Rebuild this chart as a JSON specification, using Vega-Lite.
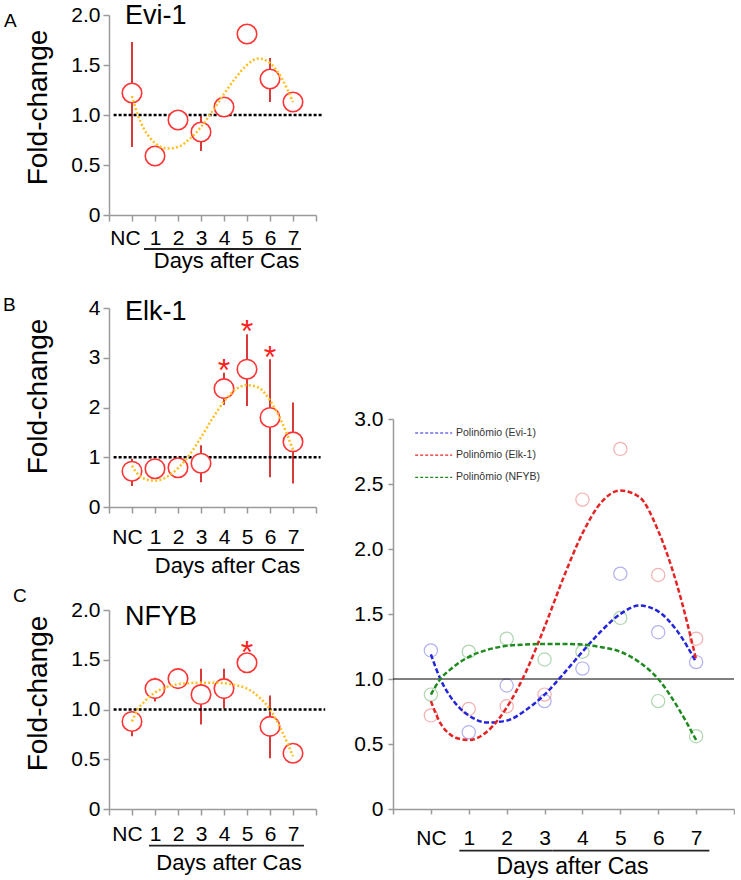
{
  "$schema": "https://vega.github.io/schema/vega-lite/v6.json",
  "padding": {"left": 2, "top": 2, "right": 0, "bottom": 0},
  "background": "white",
  "config": {
    "view": {"stroke": null},
    "font": "Liberation Sans",
    "axis": {"grid": false, "domainColor": "#9a9a9a", "domainWidth": 1.5, "tickColor": "#9a9a9a", "tickWidth": 1.5, "tickSize": 6, "labelFont": "Liberation Sans", "labelFontSize": 21, "labelColor": "#000", "titleFont": "Liberation Sans", "titleColor": "#000", "titleFontWeight": "normal", "labelOverlap": false, "labelFlush": false, "labelAngle": 0},
    "text": {"font": "Liberation Sans"}
  },
  "datasets": {
    "means": [
      {"gene": "Evi-1", "day": 0, "mean": 1.22, "lo": 0.68, "hi": 1.73},
      {"gene": "Evi-1", "day": 1, "mean": 0.59, "lo": 0.59, "hi": 0.59},
      {"gene": "Evi-1", "day": 2, "mean": 0.95, "lo": 0.85, "hi": 0.95},
      {"gene": "Evi-1", "day": 3, "mean": 0.83, "lo": 0.64, "hi": 0.99},
      {"gene": "Evi-1", "day": 4, "mean": 1.08, "lo": 1.08, "hi": 1.08},
      {"gene": "Evi-1", "day": 5, "mean": 1.81, "lo": 1.81, "hi": 1.81},
      {"gene": "Evi-1", "day": 6, "mean": 1.36, "lo": 1.13, "hi": 1.57},
      {"gene": "Evi-1", "day": 7, "mean": 1.13, "lo": 1.13, "hi": 1.13},
      {"gene": "Elk-1", "day": 0, "mean": 0.72, "lo": 0.42, "hi": 0.97},
      {"gene": "Elk-1", "day": 1, "mean": 0.77, "lo": 0.77, "hi": 0.77},
      {"gene": "Elk-1", "day": 2, "mean": 0.79, "lo": 0.79, "hi": 0.79},
      {"gene": "Elk-1", "day": 3, "mean": 0.88, "lo": 0.5, "hi": 1.24},
      {"gene": "Elk-1", "day": 4, "mean": 2.38, "lo": 2.05, "hi": 2.7},
      {"gene": "Elk-1", "day": 5, "mean": 2.77, "lo": 2.03, "hi": 3.47},
      {"gene": "Elk-1", "day": 6, "mean": 1.8, "lo": 0.6, "hi": 2.97},
      {"gene": "Elk-1", "day": 7, "mean": 1.31, "lo": 0.47, "hi": 2.1},
      {"gene": "NFYB", "day": 0, "mean": 0.88, "lo": 0.73, "hi": 0.88},
      {"gene": "NFYB", "day": 1, "mean": 1.21, "lo": 1.08, "hi": 1.32},
      {"gene": "NFYB", "day": 2, "mean": 1.31, "lo": 1.21, "hi": 1.31},
      {"gene": "NFYB", "day": 3, "mean": 1.15, "lo": 0.85, "hi": 1.41},
      {"gene": "NFYB", "day": 4, "mean": 1.21, "lo": 1.01, "hi": 1.41},
      {"gene": "NFYB", "day": 5, "mean": 1.47, "lo": 1.37, "hi": 1.47},
      {"gene": "NFYB", "day": 6, "mean": 0.83, "lo": 0.51, "hi": 1.14},
      {"gene": "NFYB", "day": 7, "mean": 0.56, "lo": 0.56, "hi": 0.56}
    ],
    "fits": [
      {"gene": "Evi-1", "day": 0, "fit": 1.19},
      {"gene": "Evi-1", "day": 0.25, "fit": 1.0},
      {"gene": "Evi-1", "day": 0.5, "fit": 0.87},
      {"gene": "Evi-1", "day": 0.75, "fit": 0.78},
      {"gene": "Evi-1", "day": 1, "fit": 0.72},
      {"gene": "Evi-1", "day": 1.5, "fit": 0.665},
      {"gene": "Evi-1", "day": 2, "fit": 0.68},
      {"gene": "Evi-1", "day": 2.5, "fit": 0.76},
      {"gene": "Evi-1", "day": 3, "fit": 0.88},
      {"gene": "Evi-1", "day": 3.5, "fit": 1.04},
      {"gene": "Evi-1", "day": 4, "fit": 1.21},
      {"gene": "Evi-1", "day": 4.5, "fit": 1.37},
      {"gene": "Evi-1", "day": 5, "fit": 1.5},
      {"gene": "Evi-1", "day": 5.5, "fit": 1.565},
      {"gene": "Evi-1", "day": 6, "fit": 1.52},
      {"gene": "Evi-1", "day": 6.5, "fit": 1.37},
      {"gene": "Evi-1", "day": 7, "fit": 1.13},
      {"gene": "Elk-1", "day": 0, "fit": 0.83},
      {"gene": "Elk-1", "day": 0.25, "fit": 0.66},
      {"gene": "Elk-1", "day": 0.5, "fit": 0.575},
      {"gene": "Elk-1", "day": 0.75, "fit": 0.54},
      {"gene": "Elk-1", "day": 1, "fit": 0.53},
      {"gene": "Elk-1", "day": 1.5, "fit": 0.6},
      {"gene": "Elk-1", "day": 2, "fit": 0.78},
      {"gene": "Elk-1", "day": 2.5, "fit": 1.05},
      {"gene": "Elk-1", "day": 3, "fit": 1.4},
      {"gene": "Elk-1", "day": 3.5, "fit": 1.78},
      {"gene": "Elk-1", "day": 4, "fit": 2.12},
      {"gene": "Elk-1", "day": 4.5, "fit": 2.36},
      {"gene": "Elk-1", "day": 5, "fit": 2.45},
      {"gene": "Elk-1", "day": 5.5, "fit": 2.4},
      {"gene": "Elk-1", "day": 6, "fit": 2.14},
      {"gene": "Elk-1", "day": 6.5, "fit": 1.72},
      {"gene": "Elk-1", "day": 7, "fit": 1.15},
      {"gene": "NFYB", "day": 0, "fit": 0.88},
      {"gene": "NFYB", "day": 0.25, "fit": 1.0},
      {"gene": "NFYB", "day": 0.5, "fit": 1.07},
      {"gene": "NFYB", "day": 1, "fit": 1.17},
      {"gene": "NFYB", "day": 1.5, "fit": 1.225},
      {"gene": "NFYB", "day": 2, "fit": 1.255},
      {"gene": "NFYB", "day": 2.5, "fit": 1.265},
      {"gene": "NFYB", "day": 3, "fit": 1.27},
      {"gene": "NFYB", "day": 3.5, "fit": 1.27},
      {"gene": "NFYB", "day": 4, "fit": 1.265},
      {"gene": "NFYB", "day": 4.5, "fit": 1.245},
      {"gene": "NFYB", "day": 5, "fit": 1.21},
      {"gene": "NFYB", "day": 5.5, "fit": 1.13},
      {"gene": "NFYB", "day": 6, "fit": 1.0},
      {"gene": "NFYB", "day": 6.5, "fit": 0.79},
      {"gene": "NFYB", "day": 7, "fit": 0.53}
    ],
    "stars": [
      {"gene": "Elk-1", "day": 4, "y": 2.92},
      {"gene": "Elk-1", "day": 5, "y": 3.7},
      {"gene": "Elk-1", "day": 6, "y": 3.18},
      {"gene": "NFYB", "day": 5, "y": 1.66}
    ]
  },
  "spacing": 26,
  "resolve": {"scale": {"color": "independent"}, "legend": {"color": "independent"}},
  "hconcat": [
    {
      "spacing": 88,
      "bounds": "flush",
      "vconcat": [
        {
          "width": 207, "height": 200,
          "layer": [
            {"data": {"name": "means"}, "transform": [{"filter": "datum.gene == 'Evi-1'"}],
             "mark": {"type": "rule", "color": "#d83a3a", "strokeWidth": 2},
             "encoding": {
               "x": {"field": "day", "type": "quantitative", "scale": {"domain": [-1, 8], "nice": false, "zero": false},
                     "axis": {"values": [-1, 0, 1, 2, 3, 4, 5, 6, 7, 8], "tickCount": 20, "labelOverlap": false, "labelExpr": "datum.value == 0 ? 'NC' : (datum.value >= 1 && datum.value <= 7 ? format(datum.value, 'd') : '')", "labelOffset": {"condition": {"test": "datum.value == 0", "value": -7}, "value": 0}, "labelPadding": 6.4, "title": "Days after Cas", "titleFontSize": 22, "titleX": 117, "titleY": 52, "titleBaseline": "alphabetic", "titleAlign": "center"}},
               "y": {"field": "lo", "type": "quantitative", "scale": {"domain": [0, 2], "nice": false, "zero": false},
                     "axis": {"values": [0, 0.5, 1, 1.5, 2], "tickCount": 20, "labelOverlap": false, "labelExpr": "datum.value == 0 ? '0' : format(datum.value, '.1f')", "labelPadding": 3, "title": "Fold-change", "titleFontSize": 28, "titleX": -71, "titleY": 92, "titleBaseline": "middle", "titleAngle": -90, "titleAlign": "center"}},
               "y2": {"field": "hi"}
             }},
            {"data": {"values": [{}]}, "mark": {"type": "rule", "color": "black", "strokeWidth": 2.5, "strokeDash": [3, 2]},
             "encoding": {"x": {"datum": -0.8}, "x2": {"datum": 8.3}, "y": {"datum": 1}}},
            {"data": {"name": "means"}, "transform": [{"filter": "datum.gene == 'Evi-1'"}],
             "mark": {"type": "circle", "size": 380, "fill": "white", "stroke": "#ff3333", "strokeWidth": 1.6, "opacity": 1},
             "encoding": {"x": {"field": "day", "type": "quantitative"}, "y": {"field": "mean", "type": "quantitative"}}},
            {"data": {"name": "fits"}, "transform": [{"filter": "datum.gene == 'Evi-1'"}],
             "mark": {"type": "line", "color": "#ffbf1f", "strokeWidth": 2.5, "strokeDash": [2, 2.2], "interpolate": "monotone"},
             "encoding": {"x": {"field": "day", "type": "quantitative"}, "y": {"field": "fit", "type": "quantitative"}}},
            {"data": {"values": [{}]}, "mark": {"type": "text", "text": "Evi-1", "fontSize": 27, "align": "left", "baseline": "middle", "color": "black"},
             "encoding": {"x": {"datum": -0.3}, "y": {"datum": 1.99}}},
            {"data": {"values": [{}]}, "mark": {"type": "text", "text": "A", "fontSize": 19, "align": "left", "baseline": "middle", "color": "black"},
             "encoding": {"x": {"datum": -5.57}, "y": {"datum": 1.94}}},
            {"data": {"values": [{}]}, "mark": {"type": "rule", "color": "#222", "strokeWidth": 1.8},
             "encoding": {"x": {"datum": 0.52}, "x2": {"datum": 7.35}, "y": {"datum": -0.34}}}
          ]
        },
        {
          "width": 207, "height": 204,
          "layer": [
            {"data": {"name": "means"}, "transform": [{"filter": "datum.gene == 'Elk-1'"}],
             "mark": {"type": "rule", "color": "#d83a3a", "strokeWidth": 2},
             "encoding": {
               "x": {"field": "day", "type": "quantitative", "scale": {"domain": [-1, 8], "nice": false, "zero": false},
                     "axis": {"values": [-1, 0, 1, 2, 3, 4, 5, 6, 7, 8], "tickCount": 20, "labelOverlap": false, "labelExpr": "datum.value == 0 ? 'NC' : (datum.value >= 1 && datum.value <= 7 ? format(datum.value, 'd') : '')", "labelOffset": {"condition": {"test": "datum.value == 0", "value": -5}, "value": 0}, "labelPadding": 13.4, "title": "Days after Cas", "titleFontSize": 22, "titleX": 118, "titleY": 65.7, "titleBaseline": "alphabetic", "titleAlign": "center"}},
               "y": {"field": "lo", "type": "quantitative", "scale": {"domain": [0, 4], "nice": false, "zero": false, "range": [204, 5]},
                     "axis": {"values": [0, 1, 2, 3, 4], "tickCount": 20, "labelOverlap": false, "labelExpr": "format(datum.value, 'd')", "labelPadding": 3, "title": "Fold-change", "titleFontSize": 28, "titleX": -71, "titleY": 93, "titleBaseline": "middle", "titleAngle": -90, "titleAlign": "center"}},
               "y2": {"field": "hi"}
             }},
            {"data": {"values": [{}]}, "mark": {"type": "rule", "color": "black", "strokeWidth": 2.5, "strokeDash": [3, 2]},
             "encoding": {"x": {"datum": -0.8}, "x2": {"datum": 8.2}, "y": {"datum": 1}}},
            {"data": {"name": "means"}, "transform": [{"filter": "datum.gene == 'Elk-1'"}],
             "mark": {"type": "circle", "size": 380, "fill": "white", "stroke": "#ff3333", "strokeWidth": 1.6, "opacity": 1},
             "encoding": {"x": {"field": "day", "type": "quantitative"}, "y": {"field": "mean", "type": "quantitative"}}},
            {"data": {"name": "fits"}, "transform": [{"filter": "datum.gene == 'Elk-1'"}],
             "mark": {"type": "line", "color": "#ffbf1f", "strokeWidth": 2.5, "strokeDash": [2, 2.2], "interpolate": "monotone"},
             "encoding": {"x": {"field": "day", "type": "quantitative"}, "y": {"field": "fit", "type": "quantitative"}}},
            {"data": {"name": "stars"}, "transform": [{"filter": "datum.gene == 'Elk-1'"}],
             "mark": {"type": "text", "text": "*", "fontSize": 32, "align": "center", "baseline": "middle", "dy": 9, "color": "#ff2020"},
             "encoding": {"x": {"field": "day", "type": "quantitative"}, "y": {"field": "y", "type": "quantitative"}}},
            {"data": {"values": [{}]}, "mark": {"type": "text", "text": "Elk-1", "fontSize": 27, "align": "left", "baseline": "middle", "color": "black"},
             "encoding": {"x": {"datum": -0.3}, "y": {"datum": 3.92}}},
            {"data": {"values": [{}]}, "mark": {"type": "text", "text": "B", "fontSize": 19, "align": "left", "baseline": "middle", "color": "black"},
             "encoding": {"x": {"datum": -5.61}, "y": {"datum": 4.06}}},
            {"data": {"values": [{}]}, "mark": {"type": "rule", "color": "#222", "strokeWidth": 1.8},
             "encoding": {"x": {"datum": 0.68}, "x2": {"datum": 7.48}, "y": {"datum": -0.864}}}
          ]
        },
        {
          "width": 207, "height": 214,
          "layer": [
            {"data": {"name": "means"}, "transform": [{"filter": "datum.gene == 'NFYB'"}],
             "mark": {"type": "rule", "color": "#d83a3a", "strokeWidth": 2},
             "encoding": {
               "x": {"field": "day", "type": "quantitative", "scale": {"domain": [-1, 8], "nice": false, "zero": false},
                     "axis": {"values": [-1, 0, 1, 2, 3, 4, 5, 6, 7, 8], "tickCount": 20, "labelOverlap": false, "labelExpr": "datum.value == 0 ? 'NC' : (datum.value >= 1 && datum.value <= 7 ? format(datum.value, 'd') : '')", "labelOffset": {"condition": {"test": "datum.value == 0", "value": -5}, "value": 0}, "labelPadding": 8.4, "title": "Days after Cas", "titleFontSize": 22, "titleX": 119.5, "titleY": 60, "titleBaseline": "alphabetic", "titleAlign": "center"}},
               "y": {"field": "lo", "type": "quantitative", "scale": {"domain": [0, 2], "nice": false, "zero": false, "range": [214, 15]},
                     "axis": {"values": [0, 0.5, 1, 1.5, 2], "tickCount": 20, "labelOverlap": false, "labelExpr": "datum.value == 0 ? '0' : format(datum.value, '.1f')", "labelPadding": 3, "title": "Fold-change", "titleFontSize": 28, "titleX": -71, "titleY": 98, "titleBaseline": "middle", "titleAngle": -90, "titleAlign": "center"}},
               "y2": {"field": "hi"}
             }},
            {"data": {"values": [{}]}, "mark": {"type": "rule", "color": "black", "strokeWidth": 2.5, "strokeDash": [3, 2]},
             "encoding": {"x": {"datum": -0.8}, "x2": {"datum": 8.4}, "y": {"datum": 1}}},
            {"data": {"name": "means"}, "transform": [{"filter": "datum.gene == 'NFYB'"}],
             "mark": {"type": "circle", "size": 380, "fill": "white", "stroke": "#ff3333", "strokeWidth": 1.6, "opacity": 1},
             "encoding": {"x": {"field": "day", "type": "quantitative"}, "y": {"field": "mean", "type": "quantitative"}}},
            {"data": {"name": "fits"}, "transform": [{"filter": "datum.gene == 'NFYB'"}],
             "mark": {"type": "line", "color": "#ffbf1f", "strokeWidth": 2.5, "strokeDash": [2, 2.2], "interpolate": "monotone"},
             "encoding": {"x": {"field": "day", "type": "quantitative"}, "y": {"field": "fit", "type": "quantitative"}}},
            {"data": {"name": "stars"}, "transform": [{"filter": "datum.gene == 'NFYB'"}],
             "mark": {"type": "text", "text": "*", "fontSize": 32, "align": "center", "baseline": "middle", "dy": 9, "color": "#ff2020"},
             "encoding": {"x": {"field": "day", "type": "quantitative"}, "y": {"field": "y", "type": "quantitative"}}},
            {"data": {"values": [{}]}, "mark": {"type": "text", "text": "NFYB", "fontSize": 27, "align": "left", "baseline": "middle", "color": "black"},
             "encoding": {"x": {"datum": -0.3}, "y": {"datum": 1.93}}},
            {"data": {"values": [{}]}, "mark": {"type": "text", "text": "C", "fontSize": 19, "align": "left", "baseline": "middle", "color": "black"},
             "encoding": {"x": {"datum": -5.17}, "y": {"datum": 2.14}}},
            {"data": {"values": [{}]}, "mark": {"type": "rule", "color": "#222", "strokeWidth": 1.8},
             "encoding": {"x": {"datum": 0.74}, "x2": {"datum": 7.48}, "y": {"datum": -0.369}}}
          ]
        }
      ]
    },
    {
      "width": 341, "height": 794,
      "layer": [
        {"data": {"name": "means"}, "transform": [{"filter": "datum.gene == 'Evi-1'"}],
         "mark": {"type": "point", "shape": "circle", "filled": false, "size": 175, "strokeWidth": 1.2, "opacity": 0.35, "color": "#2424dc"},
         "encoding": {
           "x": {"field": "day", "type": "quantitative", "scale": {"domain": [-1, 8], "nice": false, "zero": false},
                 "axis": {"values": [-1, 0, 1, 2, 3, 4, 5, 6, 7, 8], "tickCount": 20, "labelOverlap": false, "labelExpr": "datum.value == 0 ? 'NC' : (datum.value >= 1 && datum.value <= 7 ? format(datum.value, 'd') : '')", "labelPadding": 13.4, "tickSize": 5, "title": "Days after Cas", "titleFontSize": 23, "titleX": 179, "titleY": 64, "titleBaseline": "alphabetic", "titleAlign": "center"}},
           "y": {"field": "mean", "type": "quantitative", "scale": {"domain": [0, 3], "nice": false, "zero": false, "range": [794, 404]},
                 "axis": {"values": [0, 0.5, 1, 1.5, 2, 2.5, 3], "tickCount": 20, "labelOverlap": false, "labelExpr": "datum.value == 0 ? '0' : format(datum.value, '.1f')", "labelPadding": 5, "tickSize": 5, "title": null}}
         }},
        {"data": {"name": "means"}, "transform": [{"filter": "datum.gene == 'Elk-1'"}],
         "mark": {"type": "point", "shape": "circle", "filled": false, "size": 175, "strokeWidth": 1.2, "opacity": 0.35, "color": "#e42424"},
         "encoding": {"x": {"field": "day", "type": "quantitative"}, "y": {"field": "mean", "type": "quantitative"}}},
        {"data": {"name": "means"}, "transform": [{"filter": "datum.gene == 'NFYB'"}],
         "mark": {"type": "point", "shape": "circle", "filled": false, "size": 175, "strokeWidth": 1.2, "opacity": 0.35, "color": "#1f8a1f"},
         "encoding": {"x": {"field": "day", "type": "quantitative"}, "y": {"field": "mean", "type": "quantitative"}}},
        {"data": {"values": [{}]}, "mark": {"type": "rule", "color": "black", "strokeWidth": 1.2},
         "encoding": {"x": {"datum": -1}, "x2": {"datum": 8}, "y": {"datum": 1}}},
        {"data": {"name": "fits"},
         "mark": {"type": "line", "strokeWidth": 2.5, "strokeDash": [5, 2.5], "interpolate": "monotone"},
         "encoding": {
           "x": {"field": "day", "type": "quantitative"},
           "y": {"field": "fit", "type": "quantitative"},
           "color": {"field": "gene", "type": "nominal", "sort": ["Evi-1", "Elk-1", "NFYB"], "scale": {"domain": ["Evi-1", "Elk-1", "NFYB"], "range": ["#2424dc", "#e42424", "#1f8a1f"]},
                     "legend": {"orient": "none", "legendX": 46, "legendY": 411, "title": null, "padding": 0, "symbolType": "M-5,0H1", "symbolSize": 152, "symbolStrokeWidth": 1.2, "symbolDash": [3, 2], "labelFont": "Liberation Sans", "labelFontSize": 10.5, "labelColor": "#333", "labelOffset": 3, "rowPadding": 9.2, "labelExpr": "'Polinômio (' + datum.label + ')'"}}
         }},
        {"data": {"values": [{}]}, "mark": {"type": "rule", "color": "#222", "strokeWidth": 1.8},
         "encoding": {"x": {"datum": 0.75}, "x2": {"datum": 3.215}, "y": {"datum": -0.32}}},
        {"data": {"values": [{}]}, "mark": {"type": "rule", "color": "#222", "strokeWidth": 1.8},
         "encoding": {"x": {"datum": 3.215}, "x2": {"datum": 7.35}, "y": {"datum": -0.32}}}
      ]
    }
  ]
}
